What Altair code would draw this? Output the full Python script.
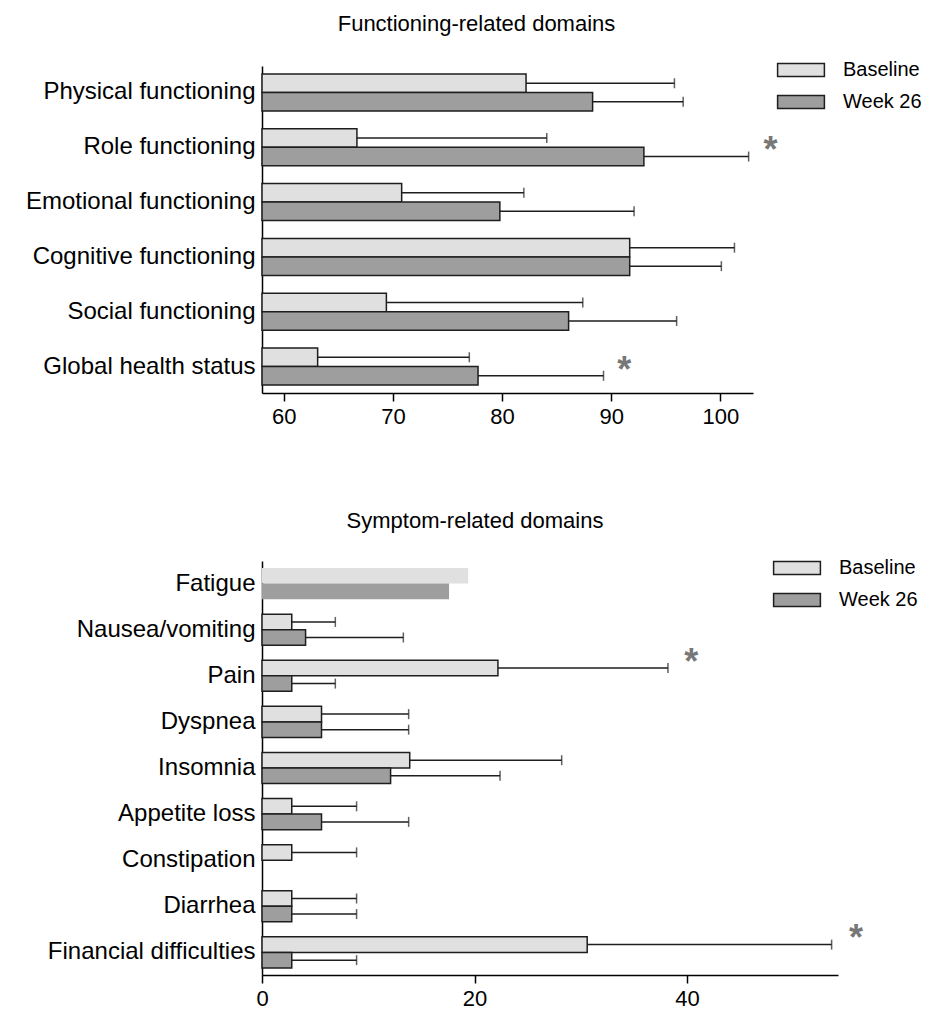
import altair as alt
import pandas as pd

FONT = "Liberation Sans"
GROUPS = ["Baseline", "Week 26"]
FILLS = ["#dfe0df", "#9d9e9d"]
INK = "#1e1e1e"

# ---------- Functioning-related domains ----------
top_categories = ["Physical functioning", "Role functioning", "Emotional functioning",
                  "Cognitive functioning", "Social functioning", "Global health status"]
top_baseline_mean = [82.2, 66.7, 70.8, 91.7, 69.4, 63.1]
top_baseline_sd = [13.6, 17.4, 11.2, 9.6, 18.0, 13.9]
top_week26_mean = [88.3, 93.0, 79.8, 91.7, 86.1, 77.8]
top_week26_sd = [8.3, 9.6, 12.3, 8.4, 9.9, 11.5]
top_ticks = [60, 70, 80, 90, 100]
top_domain = [58, 103]
top_star_categories = ["Role functioning", "Global health status"]
top_star_x = [104.6, 91.2]

# ---------- Symptom-related domains ----------
bottom_categories = ["Fatigue", "Nausea/vomiting", "Pain", "Dyspnea", "Insomnia",
                     "Appetite loss", "Constipation", "Diarrhea", "Financial difficulties"]
bottom_baseline_mean = [19.4, 2.8, 22.2, 5.6, 13.9, 2.8, 2.8, 2.8, 30.6]
bottom_baseline_sd = [None, 4.1, 16.0, 8.2, 14.3, 6.1, 6.1, 6.1, 23.0]
bottom_week26_mean = [17.6, 4.1, 2.8, 5.6, 12.1, 5.6, None, 2.8, 2.8]
bottom_week26_sd = [None, 9.2, 4.1, 8.2, 10.3, 8.2, None, 6.1, 6.1]
bottom_ticks = [0, 20, 40]
bottom_domain = [0, 54.2]
bottom_star_categories = ["Pain", "Financial difficulties"]
bottom_star_x = [40.4, 55.9]


def build_df(cats, bm, bsd, wm, wsd):
    rows = []
    for g, means, sds in (("Baseline", bm, bsd), ("Week 26", wm, wsd)):
        for c, m, s in zip(cats, means, sds):
            rows.append({"category": c, "group": g, "mean": m, "sd": s,
                         "hi": (m + s) if (m is not None and s is not None) else None})
    return pd.DataFrame(rows)


def panel(title, cats, bm, bsd, wm, wsd, ticks, domain, star_cats, star_x,
          width, height, pi, po, legend_x, legend_y, title_dx, title_offset, star_dy):
    df = build_df(cats, bm, bsd, wm, wsd)
    stars = pd.DataFrame({"category": star_cats, "x": star_x})

    xscale = alt.Scale(domain=domain, nice=False, zero=False)
    xaxis = alt.Axis(values=ticks, title=None, grid=False, labelFontSize=22, labelFont=FONT,
                     labelColor="#000", tickSize=8, tickWidth=1.5, tickColor="#000",
                     domainColor="#000", domainWidth=1.5, labelPadding=5, labelFlush=False)
    y = alt.Y("category:N", sort=cats,
              scale=alt.Scale(domain=cats, paddingInner=pi, paddingOuter=po),
              axis=alt.Axis(title=None, ticks=False, labelFontSize=24, labelFont=FONT,
                            labelColor="#000", labelPadding=7, domainColor="#000",
                            domainWidth=1.5, minExtent=248, maxExtent=248, labelLimit=0))
    yoff = alt.YOffset("group:N", sort=GROUPS,
                       scale=alt.Scale(domain=GROUPS, paddingInner=0, paddingOuter=0))

    base = alt.Chart(df)
    bars = base.transform_filter("isValid(datum.mean)").mark_bar(stroke=INK).encode(
        x=alt.X("mean:Q", scale=xscale, axis=xaxis),
        x2=alt.X2(datum=domain[0]),
        y=y, yOffset=yoff,
        fill=alt.Fill("group:N", sort=GROUPS,
                      scale=alt.Scale(domain=GROUPS, range=FILLS),
                      legend=alt.Legend(title=None, orient="none", legendX=legend_x,
                                        legendY=legend_y,
                                        symbolType="M-1.8,-0.5H1.8V0.5H-1.8Z",
                                        symbolSize=676, symbolStrokeColor=INK,
                                        symbolStrokeWidth=1.5, labelFontSize=20,
                                        labelFont=FONT, labelColor="#000",
                                        labelOffset=28, rowPadding=8)),
        strokeWidth=alt.condition(alt.datum.category == "Fatigue", alt.value(0), alt.value(1.5)),
    )
    rules = base.transform_filter("isValid(datum.sd)").mark_rule(
        color=INK, strokeWidth=1.5).encode(
        x=alt.X("mean:Q", scale=xscale, axis=xaxis), x2="hi:Q", y=y, yOffset=yoff)
    caps = base.transform_filter("isValid(datum.sd)").mark_tick(
        color=INK, thickness=1.5, size=10).encode(
        x=alt.X("hi:Q", scale=xscale, axis=xaxis), y=y, yOffset=yoff)
    star = alt.Chart(stars).mark_text(text="*", fontSize=36, fontWeight="bold",
                                      color="#777777", font=FONT,
                                      baseline="middle", dy=star_dy).encode(
        x=alt.X("x:Q", scale=xscale, axis=xaxis), y=y)

    return alt.layer(bars, rules, caps, star).properties(
        width=width, height=height,
        title=alt.TitleParams(title, fontSize=22, fontWeight="normal", font=FONT,
                              color="#000", anchor="middle", dx=title_dx,
                              offset=title_offset))


top = panel("Functioning-related domains", top_categories, top_baseline_mean, top_baseline_sd,
            top_week26_mean, top_week26_sd, top_ticks, top_domain,
            top_star_categories, top_star_x, 491, 327, 0.325, 0.146, 525, -10, -31, 20, 4)
bottom = panel("Symptom-related domains", bottom_categories, bottom_baseline_mean,
               bottom_baseline_sd, bottom_week26_mean, bottom_week26_sd, bottom_ticks,
               bottom_domain, bottom_star_categories, bottom_star_x, 576, 414, 0.325, 0.153,
               521, -7, -75, 21, -13)

chart = alt.vconcat(top, bottom, spacing=83).resolve_scale(
    x="independent", y="independent", fill="independent", yOffset="independent"
).resolve_legend(fill="independent").properties(
    padding={"left": 6, "top": 5, "right": 5, "bottom": 0}
).configure(background="white").configure_view(strokeWidth=0, strokeOpacity=0)

chart.save("out.html", embed_options={"renderer": "svg", "actions": False})
